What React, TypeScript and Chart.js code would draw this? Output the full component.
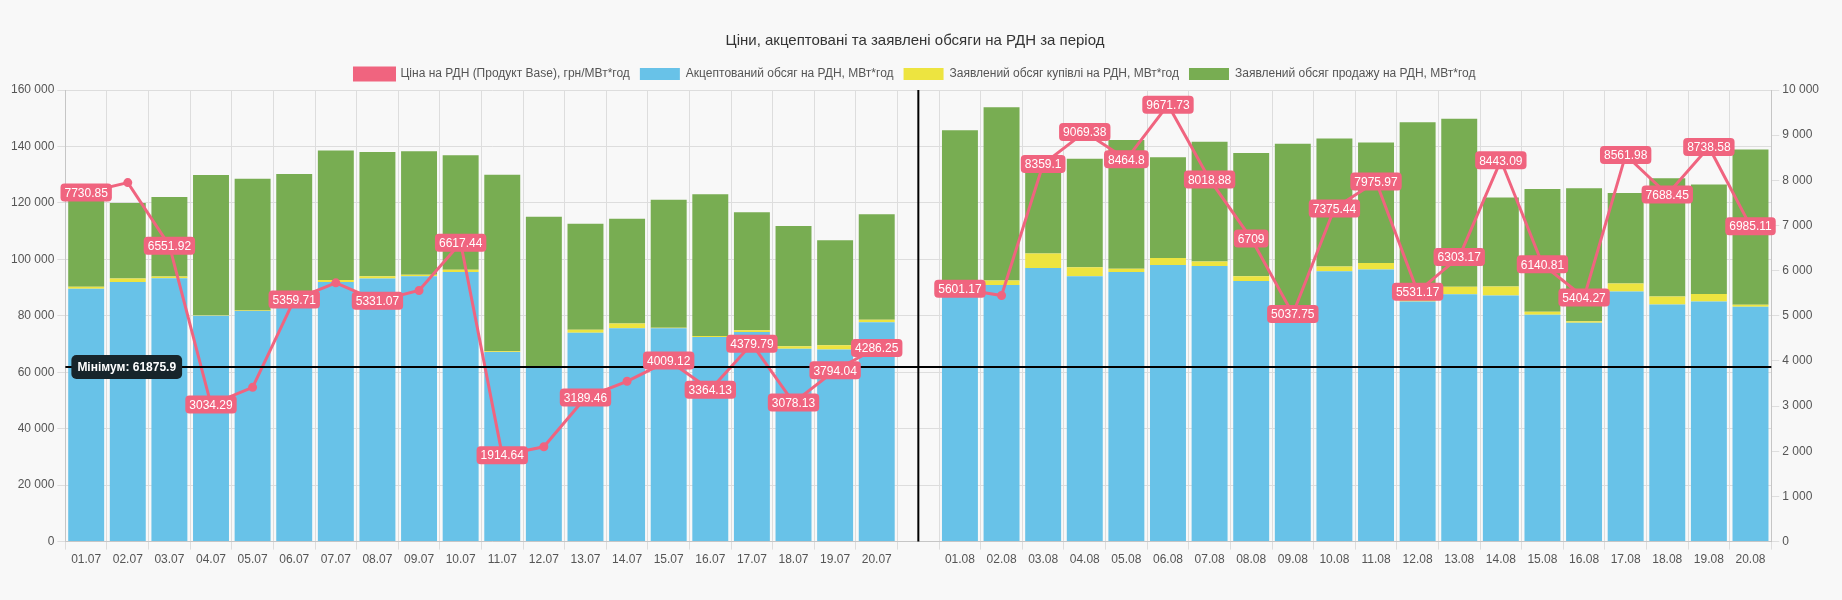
import React, { useEffect, useRef } from "react";
import { Chart, registerables } from "chart.js";
Chart.register(...registerables);

const labels = ["01.07","02.07","03.07","04.07","05.07","06.07","07.07","08.07","09.07","10.07","11.07","12.07","13.07","14.07","15.07","16.07","17.07","18.07","19.07","20.07","",
"01.08","02.08","03.08","04.08","05.08","06.08","07.08","08.08","09.08","10.08","11.08","12.08","13.08","14.08","15.08","16.08","17.08","18.08","19.08","20.08"];

const price = [7730.85,7950,6551.92,3034.29,3416.33,5359.71,5730,5331.07,5560,6617.44,1914.64,2100,3189.46,3550,4009.12,3364.13,4379.79,3078.13,3794.04,4286.25,null,
5601.17,5450,8359.1,9069.38,8464.8,9671.73,8018.88,6709,5037.75,7375.44,7975.97,5531.17,6303.17,8443.09,6140.81,5404.27,8561.98,7688.45,8738.58,6985.11];

const accepted = [89600,92000,93300,80000,81700,86000,92000,93200,94000,95500,67200,61875.9,74000,75600,75600,72500,74300,68300,68100,77700,null,
92300,90900,96900,94000,95500,98000,97600,92300,77500,95800,96400,85100,87600,87200,80400,77500,88600,84000,85100,83200];

const buy = [700,1200,600,200,200,300,700,800,500,800,200,200,1100,1700,200,300,600,900,1500,900,null,
300,1600,5200,3200,1200,2500,1600,1700,300,1700,2300,500,2700,3200,1000,600,2800,2800,2600,700];

const sell = [30600,26800,28200,49700,46700,43900,45900,44000,43800,40600,62600,53000,37500,37100,45300,50300,41800,42600,37200,37400,null,
53100,61400,32000,38400,45600,35700,42500,43700,63200,45300,42700,63000,59500,31500,43500,47100,32100,41900,38800,55000];

const minValue = 61875.9;
const fmt = (v: number) => String(Math.round(v)).replace(/\B(?=(\d{3})+(?!\d))/g, " ");

function rr(ctx: CanvasRenderingContext2D, x: number, y: number, w: number, h: number, r: number) {
  ctx.beginPath();
  ctx.moveTo(x + r, y);
  ctx.arcTo(x + w, y, x + w, y + h, r);
  ctx.arcTo(x + w, y + h, x, y + h, r);
  ctx.arcTo(x, y + h, x, y, r);
  ctx.arcTo(x, y, x + w, y, r);
  ctx.closePath();
}

const overlay = {
  id: "overlay",
  afterDatasetsDraw(chart: any) {
    const ctx: CanvasRenderingContext2D = chart.ctx;
    const a = chart.chartArea;
    const x = chart.scales.x;
    const yl = chart.scales.y;
    ctx.save();
    // vertical separator
    const vx = x.getPixelForValue(20);
    ctx.strokeStyle = "#000";
    ctx.lineWidth = 2;
    ctx.beginPath(); ctx.moveTo(vx, a.top); ctx.lineTo(vx, a.bottom); ctx.stroke();
    // minimum line
    const hy = yl.getPixelForValue(minValue);
    ctx.beginPath(); ctx.moveTo(a.left, hy); ctx.lineTo(a.right, hy); ctx.stroke();
    // price labels with collision skipping
    const meta = chart.getDatasetMeta(0);
    ctx.font = "12px 'Liberation Sans', Arial, sans-serif";
    ctx.textAlign = "center"; ctx.textBaseline = "middle";
    const boxes: any[] = [];
    meta.data.forEach((pt: any, i: number) => {
      const v = price[i];
      if (v == null) return;
      const t = String(v);
      const w = ctx.measureText(t).width + 8, h = 18;
      const b = { x: pt.x - w / 2, y: pt.y - h / 2, w, h };
      if (boxes.some(o => b.x < o.x + o.w && b.x + b.w > o.x && b.y < o.y + o.h && b.y + b.h > o.y)) return;
      boxes.push(b);
      ctx.fillStyle = "#f0647f";
      rr(ctx, b.x, b.y, b.w, b.h, 4); ctx.fill();
      ctx.fillStyle = "#fff";
      ctx.fillText(t, pt.x, pt.y + 1);
    });
    // minimum label
    ctx.font = "bold 12px 'Liberation Sans', Arial, sans-serif";
    const mt = "Мінімум: " + minValue;
    const mw = ctx.measureText(mt).width + 12;
    ctx.fillStyle = "#17252b";
    rr(ctx, a.left + 6, hy - 12, mw, 24, 5); ctx.fill();
    ctx.fillStyle = "#fff"; ctx.textAlign = "left";
    ctx.fillText(mt, a.left + 12, hy + 1);
    ctx.restore();
  },
};

export default function App() {
  const ref = useRef<HTMLCanvasElement>(null);
  useEffect(() => {
    document.body.style.margin = "0";
    document.body.style.background = "#f8f8f8";
    const chart = new Chart(ref.current!, {
      type: "bar",
      data: {
        labels,
        datasets: [
          { type: "line", label: "Ціна на РДН (Продукт Base), грн/МВт*год", data: price, yAxisID: "y1", borderColor: "#f0647f", backgroundColor: "#f0647f", borderWidth: 3, pointRadius: 3, spanGaps: false, order: 0 } as any,
          { label: "Акцептований обсяг на РДН, МВт*год", data: accepted, backgroundColor: "#68c2e8", yAxisID: "y", order: 1 },
          { label: "Заявлений обсяг купівлі на РДН, МВт*год", data: buy, backgroundColor: "#ede440", yAxisID: "y", order: 1 },
          { label: "Заявлений обсяг продажу на РДН, МВт*год", data: sell, backgroundColor: "#78ad52", yAxisID: "y", order: 1 },
        ],
      },
      options: {
        animation: false,
        responsive: false,
        layout: { padding: { left: 8, right: 20, top: 10, bottom: 30 } },
        datasets: { bar: { categoryPercentage: 0.9, barPercentage: 0.96 } } as any,
        plugins: {
          title: { display: true, text: "Ціни, акцептовані та заявлені обсяги на РДН за період", color: "#333", font: { size: 15, weight: "normal", family: "'Liberation Sans', Arial, sans-serif" }, padding: { top: 22, bottom: 8 } },
          legend: { labels: { boxWidth: 40, boxHeight: 12, color: "#555", font: { size: 12, family: "'Liberation Sans', Arial, sans-serif" } } },
          tooltip: { enabled: false },
        },
        scales: {
          x: { stacked: true, grid: { color: "#ddd", offset: true }, ticks: { color: "#555", font: { size: 12, family: "'Liberation Sans', Arial, sans-serif" } } },
          y: { stacked: true, min: 0, max: 160000, ticks: { stepSize: 20000, color: "#555", callback: (v: any) => fmt(v), font: { size: 12, family: "'Liberation Sans', Arial, sans-serif" } }, grid: { color: "#ddd" } },
          y1: { position: "right", min: 0, max: 10000, ticks: { stepSize: 1000, color: "#555", callback: (v: any) => fmt(v), font: { size: 12, family: "'Liberation Sans', Arial, sans-serif" } }, grid: { drawOnChartArea: false } },
        },
      },
      plugins: [overlay],
    });
    return () => chart.destroy();
  }, []);
  return <div style={{ background: "#f8f8f8" }}><canvas ref={ref} width={1842} height={600} /></div>;
}
